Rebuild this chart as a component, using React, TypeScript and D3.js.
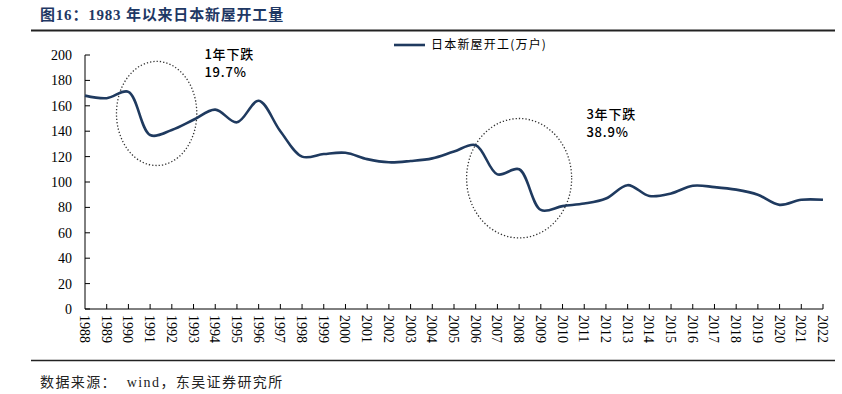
import React from 'react';
import * as d3 from 'd3';

const years = d3.range(1988, 2023).map(String);
const starts = [
  168, 166, 171, 137, 141, 149, 157, 147, 164, 140,
  120, 122, 123, 118, 115.5, 116.5, 118.6, 124, 129, 106,
  110, 78, 81, 83, 87, 97.5, 89, 91, 97, 96,
  94, 90, 82, 86, 86,
];
const yTicks = [0, 20, 40, 60, 80, 100, 120, 140, 160, 180, 200];
const seriesName = '日本新屋开工(万户)';
// annotation ellipses: centre year, centre value, half-width in years, half-height in value
const callouts = [
  { year: 1991.3, value: 154, rx: 1.85, ry: 41, label: ['1年下跌', '19.7%'], labelYear: 1993.5, labelValue: 197 },
  { year: 2008, value: 103, rx: 2.42, ry: 47, label: ['3年下跌', '38.9%'], labelYear: 2011.1, labelValue: 150 },
];

const W = 842;
const H = 394;
const margin = { top: 55, right: 19, bottom: 85, left: 85 };
const navy = '#1f3a5f';
const serif = '"Times New Roman", "Liberation Serif", "Noto Sans CJK SC", serif';
const cjk = '"Noto Sans CJK SC", "DejaVu Sans", sans-serif';

export default function App() {
  const x = d3.scalePoint<string>().domain(years).range([margin.left, W - margin.right]);
  const y = d3.scaleLinear().domain([0, 200]).range([H - margin.bottom, margin.top]);
  const xYear = d3.scaleLinear().domain([1988, 2022]).range([margin.left, W - margin.right]);

  const line = d3.line<number>()
    .x((_, i) => x(years[i]) as number)
    .y((d) => y(d))
    .curve(d3.curveCatmullRom.alpha(0.5));

  const bottom = y(0);
  const step = x.step();

  return (
    <svg width={W} height={H} style={{ position: 'absolute', left: 0, top: 0, background: '#fff' }}>
      <text x={40} y={20} fontFamily={serif} fontWeight="bold" fontSize={15} letterSpacing={0.8} fill="#1f3864" xmlSpace="preserve">
        图16：1983 年以来日本新屋开工量
      </text>
      <line x1={31} x2={835} y1={30.5} y2={30.5} stroke="#222" strokeWidth={2} />
      <line x1={31} x2={835} y1={360.5} y2={360.5} stroke="#222" strokeWidth={1.5} />

      {/* y axis */}
      <line x1={margin.left} x2={margin.left} y1={y(200)} y2={bottom} stroke="#000" />
      {yTicks.map((t) => (
        <g key={t}>
          <line x1={margin.left} x2={margin.left + 5} y1={y(t)} y2={y(t)} stroke="#000" />
          <text x={72} y={y(t)} dy="0.35em" textAnchor="end" fontFamily={serif} fontSize={14} fill="#000">
            {t}
          </text>
        </g>
      ))}

      {/* x axis */}
      <line x1={margin.left} x2={W - margin.right} y1={bottom} y2={bottom} stroke="#000" />
      {years.map((yr, i) => (
        <g key={yr}>
          {i > 0 && (
            <line x1={x(yr)} x2={x(yr)} y1={bottom} y2={bottom - 5} stroke="#000" />
          )}
          <text
            transform={`translate(${(x(yr) as number) - 5},${bottom + 6}) rotate(90)`}
            fontFamily={serif}
            fontSize={14}
            fill="#000"
          >
            {yr}
          </text>
        </g>
      ))}

      {/* callouts */}
      {callouts.map((c) => (
        <g key={c.label[0]}>
          <ellipse
            cx={xYear(c.year)}
            cy={y(c.value)}
            rx={c.rx * step}
            ry={bottom - y(c.ry)}
            fill="none"
            stroke="#333"
            strokeWidth={1.3}
            strokeDasharray="1.3 2"
          />
          {c.label.map((s, k) => (
            <text
              key={s}
              x={xYear(c.labelYear)}
              y={y(c.labelValue) + k * 18}
              fontFamily={cjk}
              fontWeight={500}
              fontSize={13}
              letterSpacing={0.8}
              fill="#000"
            >
              {s}
            </text>
          ))}
        </g>
      ))}

      <path d={line(starts) ?? ''} fill="none" stroke={navy} strokeWidth={2.6} />

      {/* legend */}
      <line x1={394} x2={425} y1={45} y2={45} stroke={navy} strokeWidth={2.6} />
      <text x={431} y={45} dy="0.35em" fontFamily={cjk} fontSize={12} letterSpacing={1.2} fill="#000">
        {seriesName}
      </text>

      <text x={40} y={387} fontFamily={serif} fontSize={14} letterSpacing={1.4} fill="#222" xmlSpace="preserve">
        数据来源：  wind，东吴证券研究所
      </text>
    </svg>
  );
}
